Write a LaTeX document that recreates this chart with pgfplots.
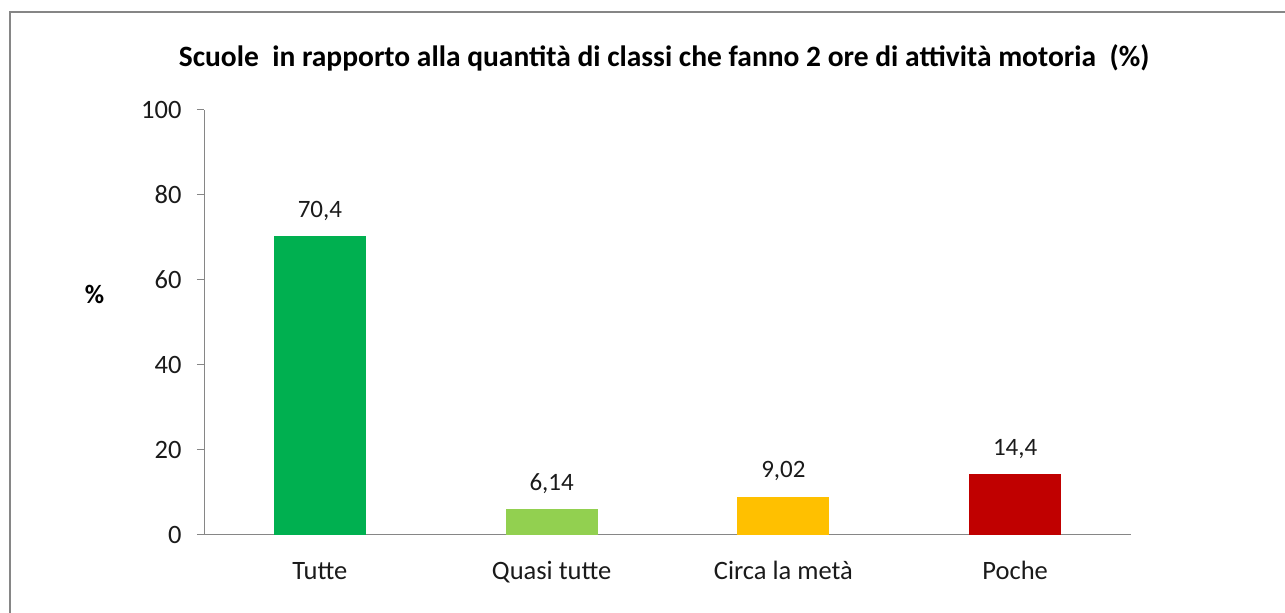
\documentclass[border=0pt]{standalone}
\usepackage{fontspec}
\setmainfont{Carlito}
\usepackage{pgfplots}
\pgfplotsset{compat=1.18}
\definecolor{cA}{HTML}{00B050}
\definecolor{cB}{HTML}{92D050}
\definecolor{cC}{HTML}{FFC000}
\definecolor{cD}{HTML}{C00000}
\definecolor{axgray}{HTML}{868686}
\definecolor{txt}{HTML}{1A1A1A}
\begin{document}
\begin{tikzpicture}
\useasboundingbox (0pt,0pt) rectangle (1285pt,613pt);
\begin{scope}
\clip (0pt,0pt) rectangle (1285pt,613pt);
\draw[line width=2pt, color=axgray] (10pt,-20pt) -- (10pt,601pt) -- (1300pt,601pt);
\end{scope}
\node[font=\fontsize{29.5}{34}\selectfont\bfseries, text=black] at (664pt,555pt) {Scuole\ \ in rapporto alla quantità di classi che fanno 2 ore di attività motoria\ \ (\%)};
\begin{axis}[
  at={(204pt,78pt)}, anchor=south west,
  scale only axis, width=927pt, height=425pt,
  xmin=-0.5, xmax=3.5, ymin=0, ymax=100,
  axis x line=bottom, axis y line=left,
  axis line style={axgray, line width=1pt, -},
  ytick={0,20,...,100},
  xtick={0,1,2,3},
  xticklabels={Tutte, Quasi tutte, Circa la metà, Poche},
  major x tick style={draw=none},
  extra x ticks={-0.5,0.5,1.5,2.5,3.5},
  extra x tick labels={},
  extra x tick style={major tick length=9pt, tick style={axgray, line width=1pt}, tick align=outside, xtick pos=bottom},
  y tick style={axgray, line width=1pt},
  major tick length=7pt, tick align=outside,
  tick label style={font=\fontsize{26.5}{31}\selectfont, text=txt},
  /pgf/number format/assume math mode=true,
  yticklabel style={xshift=-12pt},
  xticklabel style={yshift=-27pt, text height=0.7em, text depth=0.2em},
  ybar, bar width=92pt,
  point meta=explicit symbolic,
  nodes near coords={\pgfplotspointmeta},
  nodes near coords style={font=\fontsize{25}{30}\selectfont, text=txt, yshift=12pt},
  ylabel={\textbf{\%}},
  ylabel style={rotate=-90, at={(axis description cs:-0.118,0.565)}, anchor=center, font=\fontsize{26.5}{31}\selectfont},
  clip=false,
]
\addplot[fill=cA, draw=none, bar shift=0pt] coordinates {(0,70.4) [70,4]};
\addplot[fill=cB, draw=none, bar shift=0pt] coordinates {(1,6.14) [6,14]};
\addplot[fill=cC, draw=none, bar shift=0pt] coordinates {(2,9.02) [9,02]};
\addplot[fill=cD, draw=none, bar shift=0pt] coordinates {(3,14.4) [14,4]};
\end{axis}
\end{tikzpicture}
\end{document}
